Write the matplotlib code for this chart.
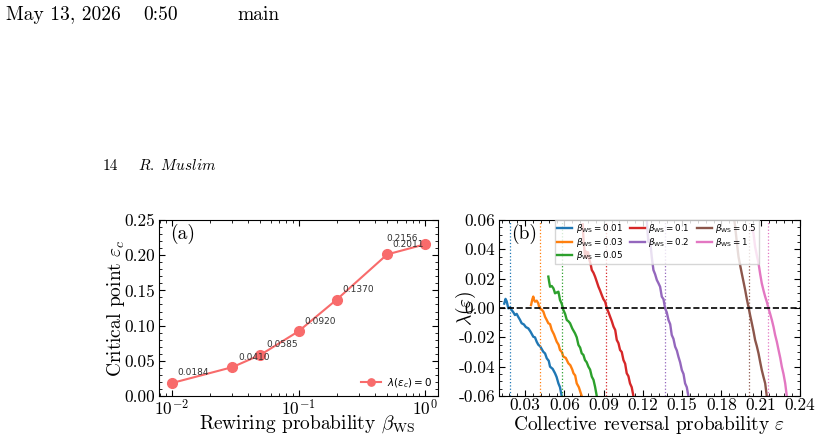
import matplotlib
matplotlib.use("Agg")
import matplotlib.pyplot as plt
from matplotlib.ticker import AutoMinorLocator, MultipleLocator, LogLocator
from matplotlib.font_manager import FontProperties

# ---- data ----
beta = [0.01, 0.03, 0.05, 0.1, 0.2, 0.5, 1.0]
eps_c = [0.0184, 0.0410, 0.0585, 0.0920, 0.1370, 0.2011, 0.2156]
eps_c_labels = ["0.0184", "0.0410", "0.0585", "0.0920", "0.1370", "0.2011", "0.2156"]

beta_labels = ["0.01", "0.03", "0.05", "0.1", "0.2", "0.5", "1"]

# lambda(eps) curves, one per beta
eps_001 = [0.0140, 0.0150, 0.0159, 0.0171, 0.0185, 0.0197, 0.0210, 0.0222, 0.0235, 0.0248,
           0.0260, 0.0273, 0.0290, 0.0305, 0.0324, 0.0340, 0.0362, 0.0375, 0.0388, 0.0400,
           0.0415, 0.0438, 0.0452, 0.0465, 0.0480, 0.0490, 0.0510, 0.0528, 0.0540, 0.0554,
           0.0566, 0.0579]
lam_001 = [0.0030, 0.0062, 0.0045, -0.0002, 0.0004, -0.0014, -0.0030, -0.0048, -0.0040, -0.0062,
           -0.0080, -0.0104, -0.0112, -0.0130, -0.0139, -0.0160, -0.0196, -0.0200, -0.0230, -0.0250,
           -0.0262, -0.0298, -0.0310, -0.0343, -0.0360, -0.0400, -0.0415, -0.0445, -0.0470, -0.0514,
           -0.0540, -0.0600]

eps_003 = [0.0345, 0.0355, 0.0362, 0.0368, 0.0375, 0.0388, 0.0400, 0.0406, 0.0413, 0.0426,
           0.0439, 0.0452, 0.0465, 0.0477, 0.0490, 0.0503, 0.0520, 0.0541, 0.0555, 0.0566,
           0.0580, 0.0592, 0.0610, 0.0630, 0.0645, 0.0660, 0.0669, 0.0682, 0.0694, 0.0710,
           0.0732]
lam_003 = [0.0020, 0.0060, 0.0078, 0.0055, 0.0043, 0.0050, 0.0032, 0.0010, -0.0002, -0.0010,
           -0.0025, -0.0060, -0.0082, -0.0104, -0.0110, -0.0150, -0.0180, -0.0230, -0.0250, -0.0286,
           -0.0300, -0.0332, -0.0340, -0.0377, -0.0390, -0.0420, -0.0445, -0.0460, -0.0514, -0.0540,
           -0.0600]

eps_005 = [0.0477, 0.0483, 0.0490, 0.0503, 0.0516, 0.0522, 0.0528, 0.0541, 0.0554, 0.0560,
           0.0566, 0.0579, 0.0592, 0.0605, 0.0618, 0.0630, 0.0643, 0.0660, 0.0681, 0.0694,
           0.0707, 0.0720, 0.0732, 0.0745, 0.0757, 0.0770, 0.0783, 0.0796, 0.0809, 0.0822,
           0.0834, 0.0847]
lam_005 = [0.0214, 0.0180, 0.0145, 0.0150, 0.0134, 0.0118, 0.0100, 0.0106, 0.0111, 0.0085,
           0.0055, 0.0030, -0.0014, -0.0040, -0.0082, -0.0090, -0.0104, -0.0140, -0.0173, -0.0200,
           -0.0252, -0.0270, -0.0309, -0.0320, -0.0355, -0.0370, -0.0400, -0.0420, -0.0468, -0.0490,
           -0.0537, -0.0600]

eps_01 = [0.0740, 0.0746, 0.0752, 0.0758, 0.0765, 0.0772, 0.0780, 0.0790, 0.0800, 0.0809,
          0.0822, 0.0834, 0.0847, 0.0860, 0.0872, 0.0885, 0.0898, 0.0911, 0.0924, 0.0937,
          0.0949, 0.0962, 0.0975, 0.0988, 0.1000, 0.1013, 0.1025, 0.1038, 0.1051, 0.1064,
          0.1076, 0.1089, 0.1101, 0.1114, 0.1127]
lam_01 = [0.0570, 0.0460, 0.0400, 0.0350, 0.0385, 0.0345, 0.0380, 0.0330, 0.0300, 0.0259,
          0.0240, 0.0214, 0.0180, 0.0145, 0.0120, 0.0089, 0.0060, 0.0043, -0.0002, -0.0030,
          -0.0059, -0.0090, -0.0127, -0.0150, -0.0218, -0.0240, -0.0286, -0.0300, -0.0355, -0.0380,
          -0.0445, -0.0465, -0.0514, -0.0540, -0.0600]

eps_02 = [0.1229, 0.1241, 0.1254, 0.1267, 0.1280, 0.1293, 0.1306, 0.1318, 0.1331, 0.1344,
          0.1357, 0.1369, 0.1382, 0.1395, 0.1408, 0.1420, 0.1433, 0.1446, 0.1459, 0.1471,
          0.1484, 0.1497, 0.1510, 0.1522, 0.1535, 0.1547]
lam_02 = [0.0600, 0.0450, 0.0464, 0.0350, 0.0259, 0.0230, 0.0191, 0.0170, 0.0145, 0.0077,
          0.0060, -0.0002, -0.0030, -0.0082, -0.0110, -0.0184, -0.0210, -0.0264, -0.0290, -0.0332,
          -0.0370, -0.0423, -0.0450, -0.0514, -0.0540, -0.0600]

eps_05 = [0.1895, 0.1904, 0.1917, 0.1930, 0.1943, 0.1955, 0.1968, 0.1981, 0.1994, 0.2006,
          0.2019, 0.2032, 0.2045, 0.2057, 0.2070, 0.2083, 0.2096, 0.2108, 0.2121, 0.2134,
          0.2146]
lam_05 = [0.0620, 0.0560, 0.0450, 0.0350, 0.0290, 0.0236, 0.0180, 0.0123, 0.0060, 0.0009,
          -0.0050, -0.0104, -0.0160, -0.0218, -0.0260, -0.0309, -0.0370, -0.0423, -0.0470, -0.0514,
          -0.0600]

eps_1 = [0.2035, 0.2044, 0.2057, 0.2070, 0.2083, 0.2096, 0.2108, 0.2121, 0.2134, 0.2147,
         0.2159, 0.2172, 0.2185, 0.2198, 0.2210, 0.2223, 0.2236, 0.2249, 0.2261, 0.2274,
         0.2287, 0.2299]
lam_1 = [0.0530, 0.0514, 0.0418, 0.0360, 0.0305, 0.0230, 0.0168, 0.0120, 0.0077, 0.0040,
         -0.0002, -0.0040, -0.0082, -0.0130, -0.0184, -0.0230, -0.0286, -0.0340, -0.0400, -0.0450,
         -0.0514, -0.0600]

eps_curves = [eps_001, eps_003, eps_005, eps_01, eps_02, eps_05, eps_1]
lam_curves = [lam_001, lam_003, lam_005, lam_01, lam_02, lam_05, lam_1]

colors = ["tab:blue", "tab:orange", "tab:green", "tab:red", "tab:purple", "tab:brown", "tab:pink"]

# ---- style ----
plt.rcParams["font.family"] = "serif"
plt.rcParams["font.serif"] = ["cmr10", "DejaVu Serif"]
plt.rcParams["mathtext.fontset"] = "cm"
plt.rcParams["axes.formatter.use_mathtext"] = False
plt.rcParams["axes.unicode_minus"] = False
plt.rcParams["font.size"] = 14
for ax_name in ("xtick", "ytick"):
    plt.rcParams[f"{ax_name}.direction"] = "in"
    plt.rcParams[f"{ax_name}.major.size"] = 4
    plt.rcParams[f"{ax_name}.minor.size"] = 2
    plt.rcParams[f"{ax_name}.minor.visible"] = True
    plt.rcParams[f"{ax_name}.labelsize"] = 12.5
plt.rcParams["xtick.major.pad"] = 1.5
plt.rcParams["ytick.major.pad"] = 2.5
plt.rcParams["xtick.top"] = True
plt.rcParams["ytick.right"] = True

sans_small = FontProperties(family="DejaVu Sans", size=6.5, math_fontfamily="dejavusans")
sans_leg_a = FontProperties(family="DejaVu Sans", size=7.5, math_fontfamily="dejavusans")
sans_leg_b = FontProperties(family="DejaVu Sans", size=6.3, math_fontfamily="dejavusans")

fig = plt.figure(figsize=(8.21, 4.36), dpi=100)

# page header text
fig.text(6 / 821, 1 - 20 / 436, "May 13, 2026", fontsize=14, va="baseline")
fig.text(143 / 821, 1 - 20 / 436, "0:50", fontsize=14, va="baseline")
fig.text(237 / 821, 1 - 20 / 436, "main", fontsize=14, va="baseline")
fig.text(103 / 821, 1 - 170 / 436, "14", fontsize=11, va="baseline")
fig.text(138 / 821, 1 - 170 / 436, r"$R.\ Muslim$", fontsize=11, va="baseline")

# ---- panel (a) ----
ax1 = fig.add_axes([159 / 821, 40 / 436, 279 / 821, 176 / 436])
ax1.plot(beta, eps_c, "-o", color="#f86b6b", lw=1.5, ms=7, label=r"$\lambda(\varepsilon_c) = 0$")
ax1.set_xscale("log")
ax1.set_xlim(0.0079, 1.26)
ax1.set_ylim(0, 0.25)
ax1.yaxis.set_major_locator(MultipleLocator(0.05))
ax1.yaxis.set_minor_locator(AutoMinorLocator(5))
ax1.xaxis.set_minor_locator(LogLocator(base=10, subs=range(2, 10), numticks=20))

offsets = [(4, 4)] * 6 + [(-28, 1)]
for b, e, txt, off in zip(beta, eps_c, eps_c_labels, offsets):
    ax1.annotate(txt, (b, e), xytext=off, textcoords="offset points",
                 fontproperties=sans_small, color="#333333", ha="left", va="bottom")

ax1.text(0.04, 0.98, "(a)", transform=ax1.transAxes, fontsize=14, va="top")
ax1.set_xlabel(r"Rewiring probability $\beta_{\rm WS}$")
ax1.set_ylabel(r"Critical point $\varepsilon_c$")
ax1.xaxis.set_label_coords(0.53, -0.1)
ax1.yaxis.set_label_coords(-0.115, 0.5)
ax1.legend(loc="lower right", prop=sans_leg_a, frameon=False, handlelength=2.0,
           markerscale=0.75, borderaxespad=0.2, handletextpad=0.5)

# ---- panel (b) ----
ax2 = fig.add_axes([499 / 821, 40 / 436, 301 / 821, 176 / 436])
for x, y, c, lab, ec in zip(eps_curves, lam_curves, colors, beta_labels, eps_c):
    ax2.plot(x, y, color=c, lw=1.7, label=r"$\beta_{\rm WS} = %s$" % lab)
    ax2.axvline(ec, color=c, ls=":", lw=0.9)
ax2.axhline(0, color="black", ls="--", lw=1.2)
ax2.set_xlim(0.01, 0.24)
ax2.set_ylim(-0.06, 0.06)
ax2.xaxis.set_major_locator(MultipleLocator(0.03))
ax2.xaxis.set_minor_locator(AutoMinorLocator(5))
ax2.yaxis.set_major_locator(MultipleLocator(0.02))
ax2.yaxis.set_minor_locator(AutoMinorLocator(4))

ax2.text(0.04, 0.98, "(b)", transform=ax2.transAxes, fontsize=14, va="top")
ax2.set_xlabel(r"Collective reversal probability $\varepsilon$")
ax2.set_ylabel(r"$\lambda(\varepsilon)$")
ax2.xaxis.set_label_coords(0.5, -0.1)
ax2.yaxis.set_label_coords(-0.07, 0.5)
ax2.legend(loc="upper center", bbox_to_anchor=(0.525, 1.0), ncol=3, prop=sans_leg_b,
           labelspacing=0.05, handlelength=1.7, handletextpad=0.4, columnspacing=0.8,
           borderpad=0.2, borderaxespad=0.05, framealpha=0.8, fancybox=False)

fig.savefig("out.png", dpi=100)
